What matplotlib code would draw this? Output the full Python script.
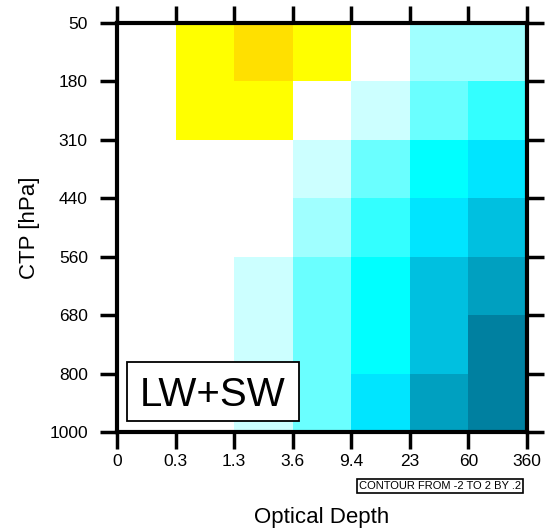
import numpy as np
import matplotlib.pyplot as plt
from matplotlib.colors import ListedColormap, BoundaryNorm
from matplotlib.patches import Rectangle

plt.rcParams['font.family'] = ['Liberation Sans', 'DejaVu Sans']

# ISCCP-style histogram bins
tau_labels = ['0', '0.3', '1.3', '3.6', '9.4', '23', '60', '360']
ctp_labels = ['50', '180', '310', '440', '560', '680', '800', '1000']

# difference field, rows top (50-180 hPa) to bottom (800-1000 hPa)
row_50_180 = [0.0, 0.3, 0.5, 0.3, 0.0, -0.5, -0.5]
row_180_310 = [0.0, 0.3, 0.3, 0.0, -0.3, -0.7, -0.9]
row_310_440 = [0.0, 0.0, 0.0, -0.3, -0.7, -1.1, -1.3]
row_440_560 = [0.0, 0.0, 0.0, -0.5, -0.9, -1.3, -1.5]
row_560_680 = [0.0, 0.0, -0.3, -0.7, -1.1, -1.5, -1.7]
row_680_800 = [0.0, 0.0, -0.3, -0.7, -1.1, -1.5, -1.9]
row_800_1000 = [0.0, 0.0, -0.3, -0.7, -1.3, -1.7, -1.9]

data = np.array([row_50_180, row_180_310, row_310_440, row_440_560,
                 row_560_680, row_680_800, row_800_1000])

levels = np.arange(-2.0, 2.01, 0.2)
colors = ['#0080A0', '#00A0C0', '#00C0E0', '#00E5FF', '#00FFFF',
          '#33FFFF', '#6AFFFF', '#A0FFFF', '#CCFFFF', '#FFFFFF',
          '#FFFFFF', '#FFFF00', '#FFE000', '#FFC000', '#FFA000',
          '#FF8000', '#FF6000', '#FF4000', '#E02000', '#C00000']
cmap = ListedColormap(colors)
norm = BoundaryNorm(levels, cmap.N)

fig = plt.figure(figsize=(5.45, 5.29), dpi=100)
ax = fig.add_axes([117/545, 97/529, 410/545, 409/529])

x = np.arange(len(tau_labels))
y = np.arange(len(ctp_labels))
ax.pcolormesh(x, y, data, cmap=cmap, norm=norm, shading='flat')
ax.set_xlim(0, 7)
ax.set_ylim(7, 0)

ax.set_xticks(x)
ax.set_xticklabels(tau_labels)
ax.set_yticks(y)
ax.set_yticklabels(ctp_labels)
ax.tick_params(direction='out', length=12, width=2.5, labelsize=12.5,
               top=True, right=True)
ax.tick_params(axis='x', pad=4)
ax.tick_params(axis='y', pad=9)
for s in ax.spines.values():
    s.set_linewidth(3)

ax.set_xlabel('Optical Depth', fontsize=16, va='center')
ax.xaxis.set_label_coords(0.5, (529 - 517 - 97) / 409)
ax.set_ylabel('CTP [hPa]', fontsize=16, va='center')
ax.yaxis.set_label_coords((30 - 117) / 410, 0.5)

# panel label
ax.add_patch(Rectangle((10/410, 11/409), 172/410, 59/409, transform=ax.transAxes,
                       fc='white', ec='black', lw=1.3, zorder=5))
ax.text(96/410, 41/409, 'LW+SW', transform=ax.transAxes,
        fontsize=29, ha='center', va='center_baseline', zorder=6)

fig.text(521/545, 1 - 486/529, 'CONTOUR FROM -2 TO 2 BY .2', fontsize=8,
         ha='right', va='center',
         bbox=dict(boxstyle='square,pad=0.2', fc='white', ec='black', lw=1.2))

fig.savefig('out.png', dpi=100)
